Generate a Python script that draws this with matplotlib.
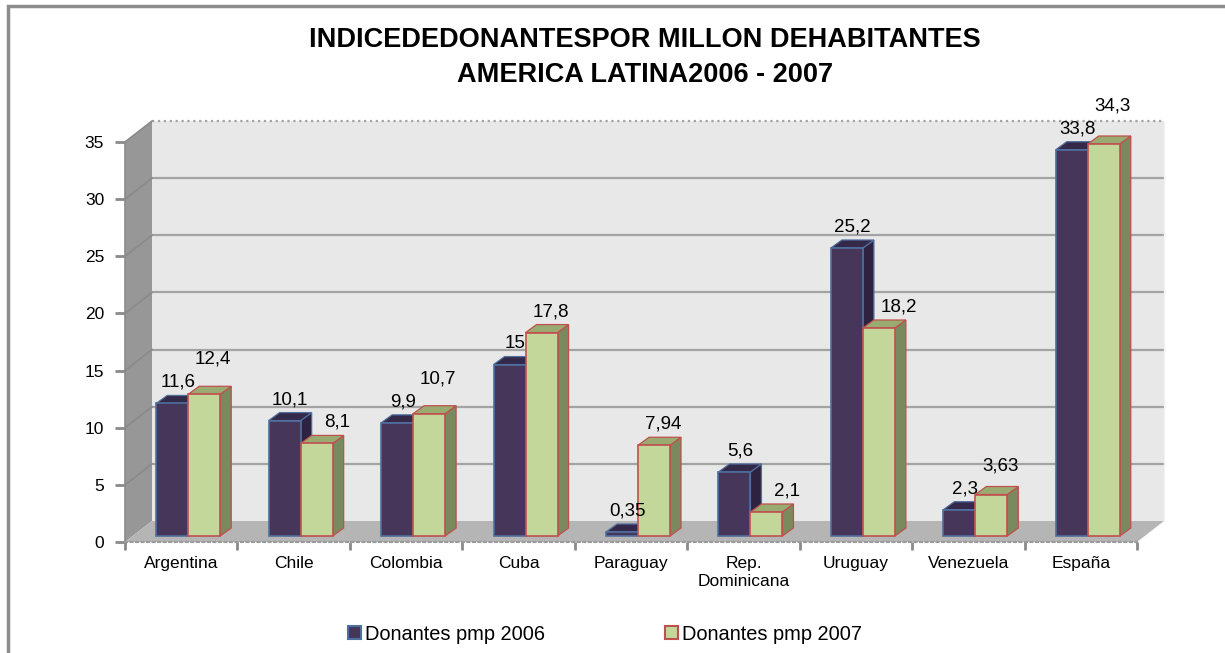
import matplotlib.pyplot as plt
from matplotlib.patches import Polygon, Patch, Rectangle

paises = ['Argentina', 'Chile', 'Colombia', 'Cuba', 'Paraguay', 'Rep.\nDominicana',
          'Uruguay', 'Venezuela', 'España']
pmp_2006 = [11.6, 10.1, 9.9, 15, 0.35, 5.6, 25.2, 2.3, 33.8]
pmp_2007 = [12.4, 8.1, 10.7, 17.8, 7.94, 2.1, 18.2, 3.63, 34.3]
etiq_2006 = ['11,6', '10,1', '9,9', '15', '0,35', '5,6', '25,2', '2,3', '33,8']
etiq_2007 = ['12,4', '8,1', '10,7', '17,8', '7,94', '2,1', '18,2', '3,63', '34,3']
yticks = [0, 5, 10, 15, 20, 25, 30, 35]

plt.rcParams['font.family'] = ['Liberation Sans', 'DejaVu Sans']

fig = plt.figure(figsize=(12.25, 6.53), dpi=100)
ax = fig.add_axes([125 / 1225, 111 / 653, 1012 / 1225, 400 / 653])
ax.set_xlim(-0.5, 8.5)
ax.set_ylim(0, 35)

# pixel -> data helpers (112.4 px per category, 11.43 px per unit)
px_x = 9 / 1012
px_y = 35 / 400
DX, DY = 27 * px_x, 21 * px_y          # depth of the floor / walls
OX, OY = 7 * px_x, 6 * px_y            # bars sit a bit inside the box
BDX, BDY = 11 * px_x, 8 * px_y         # depth of each bar
W = 32 * px_x                          # bar width

ymax = yticks[-1]
x0, x1 = -0.5, 8.5

def poly(pts, fc, ec='none', lw=0, z=1):
    ax.add_patch(Polygon(pts, closed=True, facecolor=fc, edgecolor=ec,
                         linewidth=lw, zorder=z, clip_on=False))

# walls and floor
poly([(x0 + DX, DY), (x1 + DX, DY), (x1 + DX, ymax + DY), (x0 + DX, ymax + DY)], '#e8e8e8', z=0.5)
poly([(x0, 0), (x0 + DX, DY), (x0 + DX, ymax + DY), (x0, ymax)], '#979797', z=0.6)
poly([(x0, 0), (x1, 0), (x1 + DX, DY), (x0 + DX, DY)], '#b5b5b5', z=0.6)

for k in yticks[1:]:
    ls = ':' if k == ymax else '-'
    ax.plot([x0 + DX, x1 + DX], [k + DY, k + DY], color='#a3a3a3', lw=1.6, ls=ls,
            zorder=0.7, clip_on=False)
    ax.plot([x0, x0 + DX], [k, k + DY], color='#8a8a8a', lw=1.2, zorder=0.7, clip_on=False)
ax.plot([x1 + DX, x1 + DX], [DY, ymax + DY], color='#f2f2f2', lw=1, zorder=0.7, clip_on=False)


def bar3d(xl, h, front, side, top, edge):
    xl = xl + OX
    xr = xl + W
    y0 = OY
    yt = max(h, 0.0) + OY
    poly([(xr, y0), (xr + BDX, y0 + BDY), (xr + BDX, yt + BDY), (xr, yt)], side, edge, 0.9, 3)
    poly([(xl, yt), (xr, yt), (xr + BDX, yt + BDY), (xl + BDX, yt + BDY)], top, edge, 0.9, 3)
    poly([(xl, y0), (xr, y0), (xr, yt), (xl, yt)], front, edge, 1.2, 3)


c06 = dict(front='#46365a', side='#2d2340', top='#35294a', edge='#4f6f9f')
c07 = dict(front='#c4d79b', side='#7b8a5e', top='#9aab72', edge='#c0504d')

for i in range(len(paises)):
    bar3d(i - W, pmp_2006[i], **c06)
    bar3d(i, pmp_2007[i], **c07)

# data labels, 2007 label pushed up / right when it would collide with 2006
lift = 21 * px_y
gap = 23 * px_y
for i in range(len(paises)):
    ya = pmp_2006[i] + OY + lift
    xa = i - W / 2 + OX + BDX / 2
    ax.text(xa, ya, etiq_2006[i], ha='center', va='center', fontsize=13.5, zorder=5)
    xb = i + W / 2 + OX + BDX / 2
    yb = pmp_2007[i] + OY + lift
    if pmp_2007[i] < pmp_2006[i]:
        xb += 0.13
    else:
        yb = max(yb, ya + gap)
        xb += 0.03
    ax.text(xb, yb, etiq_2007[i], ha='center', va='center', fontsize=13.5, zorder=5)

# axes
for s in ['top', 'right']:
    ax.spines[s].set_visible(False)
ax.spines['left'].set_color('#8a8a8a')
ax.spines['left'].set_linewidth(1.2)
ax.spines['bottom'].set_color('#9a9a9a')
ax.spines['bottom'].set_linestyle(':')
ax.spines['bottom'].set_linewidth(1.5)
ax.set_facecolor('none')

ax.set_yticks(yticks)
ax.set_yticklabels([str(v) for v in yticks], fontsize=12.5)
ax.tick_params(axis='y', length=7, width=2, color='#8a8a8a', pad=8)

ax.set_xticks([i + 0.5 for i in range(-1, len(paises))], minor=False)
ax.set_xticklabels([])
ax.set_xticks(range(len(paises)), minor=True)
ax.set_xticklabels(paises, minor=True, fontsize=12.5, linespacing=1.25)
ax.tick_params(axis='x', which='major', length=6, width=2, color='#8a8a8a')
ax.tick_params(axis='x', which='minor', length=0, pad=10)
for lab in ax.get_xticklabels(minor=True):
    lab.set_verticalalignment('top')

fig.text(645 / 1225, 1 - 40 / 653, 'INDICEDEDONANTESPOR MILLON DEHABITANTES',
         ha='center', va='center', fontsize=19.5, fontweight='bold')
fig.text(645 / 1225, 1 - 75 / 653, 'AMERICA LATINA2006 - 2007',
         ha='center', va='center', fontsize=19.5, fontweight='bold')

handles = [Patch(facecolor='#46365a', edgecolor='#4f6f9f', lw=1.5, label='Donantes pmp 2006'),
           Patch(facecolor='#c4d79b', edgecolor='#c0504d', lw=1.5, label='Donantes pmp 2007')]
fig.legend(handles=handles, loc='center', bbox_to_anchor=(605 / 1225, 1 - 634 / 653),
           ncol=2, frameon=False, fontsize=14.4, handlelength=0.65, handleheight=0.65,
           handletextpad=0.2, columnspacing=6.0)

fig.patches.append(Rectangle((8 / 1225, -0.1), 1.2, 1.1 - 6 / 653, transform=fig.transFigure,
                             fill=False, edgecolor='#8c8c8c', lw=2.5))

fig.savefig('out.png', dpi=100)
